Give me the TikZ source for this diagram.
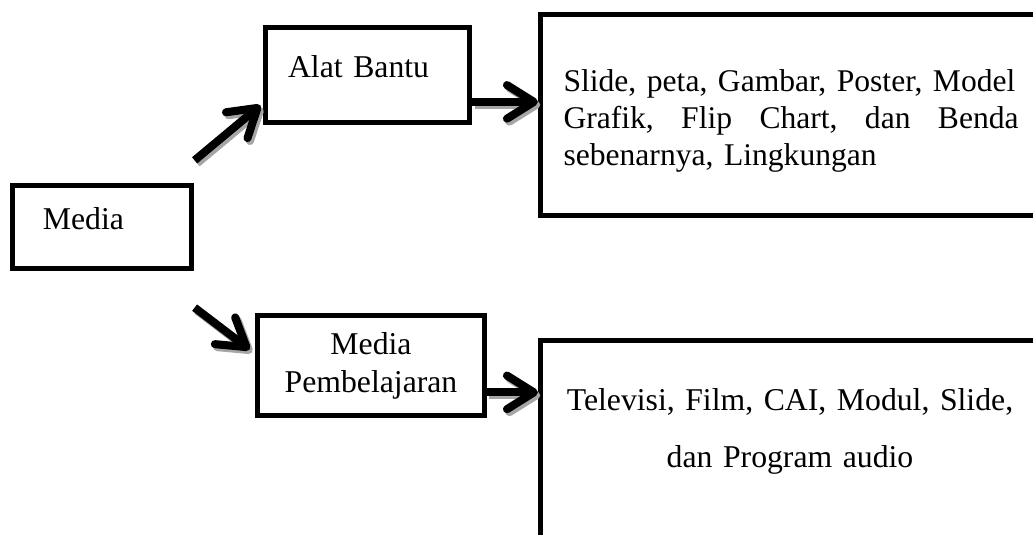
\documentclass[tikz,border=0pt]{standalone}
\usepackage{fontspec}
\setmainfont{Liberation Serif}
\usetikzlibrary{arrows.meta}
\begin{document}
\begin{tikzpicture}[x=0.372pt, y=-0.372pt,
        kotak/.style = {draw, line width=1.9pt, rectangle, font=\fontsize{11.8pt}{14.1pt}\selectfont},
        isi/.style = {inner sep=0pt},
        panah/.style = {line width=3pt, -{Straight Barb[length=10pt, width=12.5pt, round]}},
        bayang/.style = {panah, draw=black!35, transform canvas={xshift=0.9pt, yshift=-1.1pt}}]
        \useasboundingbox (0,0) rectangle (1033,535);

        % Kotak kiri dan tengah
        \node[kotak, minimum width=66.6pt, minimum height=30.9pt, text width=44pt, inner xsep=11.3pt, align=left, text height=8pt, text depth=5.8pt] (media) at (102,227) {Media};
        \node[kotak, minimum width=75.9pt, minimum height=35.3pt, text width=59.1pt, inner xsep=8.4pt, align=left, text height=8pt, text depth=5.8pt] (alat) at (367.5,75) {Alat Bantu};
        \node[kotak, minimum width=84.4pt, minimum height=37.2pt, text width=72pt, inner xsep=6.2pt, align=center] (pemb) at (371,365.5) {Media\\Pembelajaran};

        % Kotak kanan
        \node[kotak, minimum width=193.3pt, minimum height=74.8pt] (alatisi) at (800.25,115) {};
        \node[isi, anchor=north west, text width=169.3pt, align=left, text height=8.2pt, font=\fontsize{11.75pt}{13.8pt}\selectfont] (alatteks) at (563,68.7)
            {\makebox[169.3pt][s]{Slide, peta, Gambar, Poster, Model}\\
             \makebox[169.3pt][s]{Grafik,\hfill Flip\hfill Chart,\hfill dan\hfill Benda}\\
             sebenarnya, Lingkungan};
        \node[kotak, minimum width=193.3pt, minimum height=96.5pt] (pembisi) at (800.25,470.25) {};
        \node[isi, anchor=north, text width=200pt, align=center, text height=8.2pt, font=\fontsize{11.8pt}{21.2pt}\selectfont] (pembteks) at (790,388)
            {Televisi, Film, CAI, Modul, Slide,\\dan Program audio};

        % Ujung panah
        \coordinate (m1) at ([xshift=0.2pt, yshift=8.4pt]media.north east);
        \coordinate (a0) at ([xshift=-0.9pt, yshift=7.3pt]alat.south west);
        \coordinate (m2) at ([xshift=0.2pt, yshift=-13.6pt]media.south east);
        \coordinate (p0) at ([xshift=-2pt, yshift=-13.6pt]pemb.north west);
        \coordinate (a1) at ([yshift=-10pt]alat.east);
        \coordinate (a2) at (a1 -| alatisi.west);
        \coordinate (p1) at ([yshift=-10pt]pemb.east);
        \coordinate (p2) at (p1 -| pembisi.west);

        % Panah dengan bayangan
        \foreach \awal/\akhir in {m1/a0, m2/p0, a1/a2, p1/p2}{
            \draw[bayang] (\awal) -- (\akhir);
            \draw[panah] (\awal) -- (\akhir);
        }
    \end{tikzpicture}
\end{document}
